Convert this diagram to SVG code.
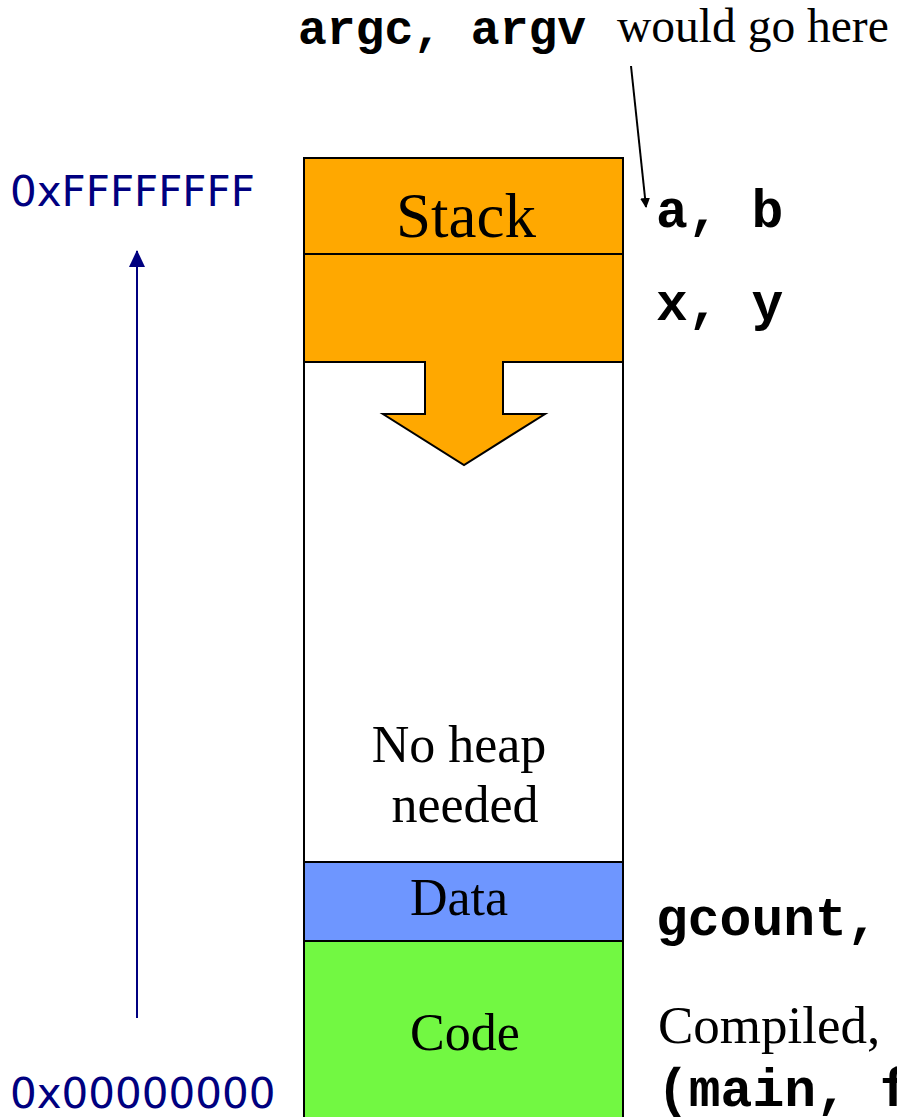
<svg xmlns="http://www.w3.org/2000/svg" width="897" height="1117" viewBox="0 0 897 1117">
<style>
.seg{stroke:#000;stroke-width:2}
.serif{font-family:"Liberation Serif","Times New Roman",serif;fill:#000}
.mono{font-family:"Liberation Mono","Courier New",monospace;font-weight:bold;fill:#000}
.addr{font-family:"DejaVu Sans",sans-serif;fill:#000080;font-size:42px}
</style>
<defs>
<marker id="ah" markerWidth="10" markerHeight="10" refX="9" refY="5" orient="auto" markerUnits="userSpaceOnUse">
<path d="M0,0 L10,5 L0,10 z" fill="#000"/>
</marker>
<marker id="bh" markerWidth="17" markerHeight="16" refX="16" refY="8" orient="auto" markerUnits="userSpaceOnUse">
<path d="M0,0 L17,8 L0,16 z" fill="#000080"/>
</marker>
</defs>
<rect width="897" height="1117" fill="#fff"/>
<g id="memory-column">
<rect class="seg" x="304" y="158" width="319" height="980" fill="#fff"/>
</g>
<g id="stack">
<rect class="seg" x="304" y="158" width="319" height="96" fill="#FFA800"/>
<text class="serif" x="466" y="237" font-size="63" text-anchor="middle">Stack</text>
</g>
<g id="stack-frame">
<rect class="seg" x="304" y="254" width="319" height="108" fill="#FFA800"/>
</g>
<g id="grow-arrow">
<path d="M425,362 L425,414 L383,414 L464,465 L545,414 L503,414 L503,362" fill="#FFA800" stroke="#000" stroke-width="2" stroke-linejoin="miter"/>
<rect x="426" y="355" width="76" height="8" fill="#FFA800"/>
</g>
<g id="heap">
<text class="serif" x="459" y="762" font-size="52" text-anchor="middle">No heap</text>
<text class="serif" x="465" y="822" font-size="52" text-anchor="middle">needed</text>
</g>
<g id="data">
<rect class="seg" x="304" y="862" width="319" height="79" fill="#6E96FF"/>
<text class="serif" x="459" y="915" font-size="52" text-anchor="middle">Data</text>
</g>
<g id="code">
<rect class="seg" x="304" y="941" width="319" height="200" fill="#72F842"/>
<text class="serif" x="465" y="1050" font-size="52" text-anchor="middle">Code</text>
</g>
<g id="labels">
<text class="mono" x="298" y="44" font-size="48">argc, argv</text>
<text class="serif" x="617" y="42" font-size="47.5">would go here</text>
<text class="mono" x="656" y="227" font-size="53">a, b</text>
<text class="mono" x="656" y="320" font-size="53">x, y</text>
<text class="mono" x="656" y="935" font-size="53">gcount,</text>
<text class="serif" x="658" y="1043" font-size="53">Compiled,</text>
<text class="mono" x="657" y="1106" font-size="53">(main, f</text>
<text class="addr" x="10" y="206">0xFFFFFFFF</text>
<text class="addr" x="10" y="1108">0x00000000</text>
</g>
<g id="connectors">
<line x1="631" y1="66" x2="646" y2="207" stroke="#000" stroke-width="2" marker-end="url(#ah)"/>
<line x1="137" y1="1018" x2="137" y2="251" stroke="#000080" stroke-width="2" marker-end="url(#bh)"/>
</g>
</svg>
